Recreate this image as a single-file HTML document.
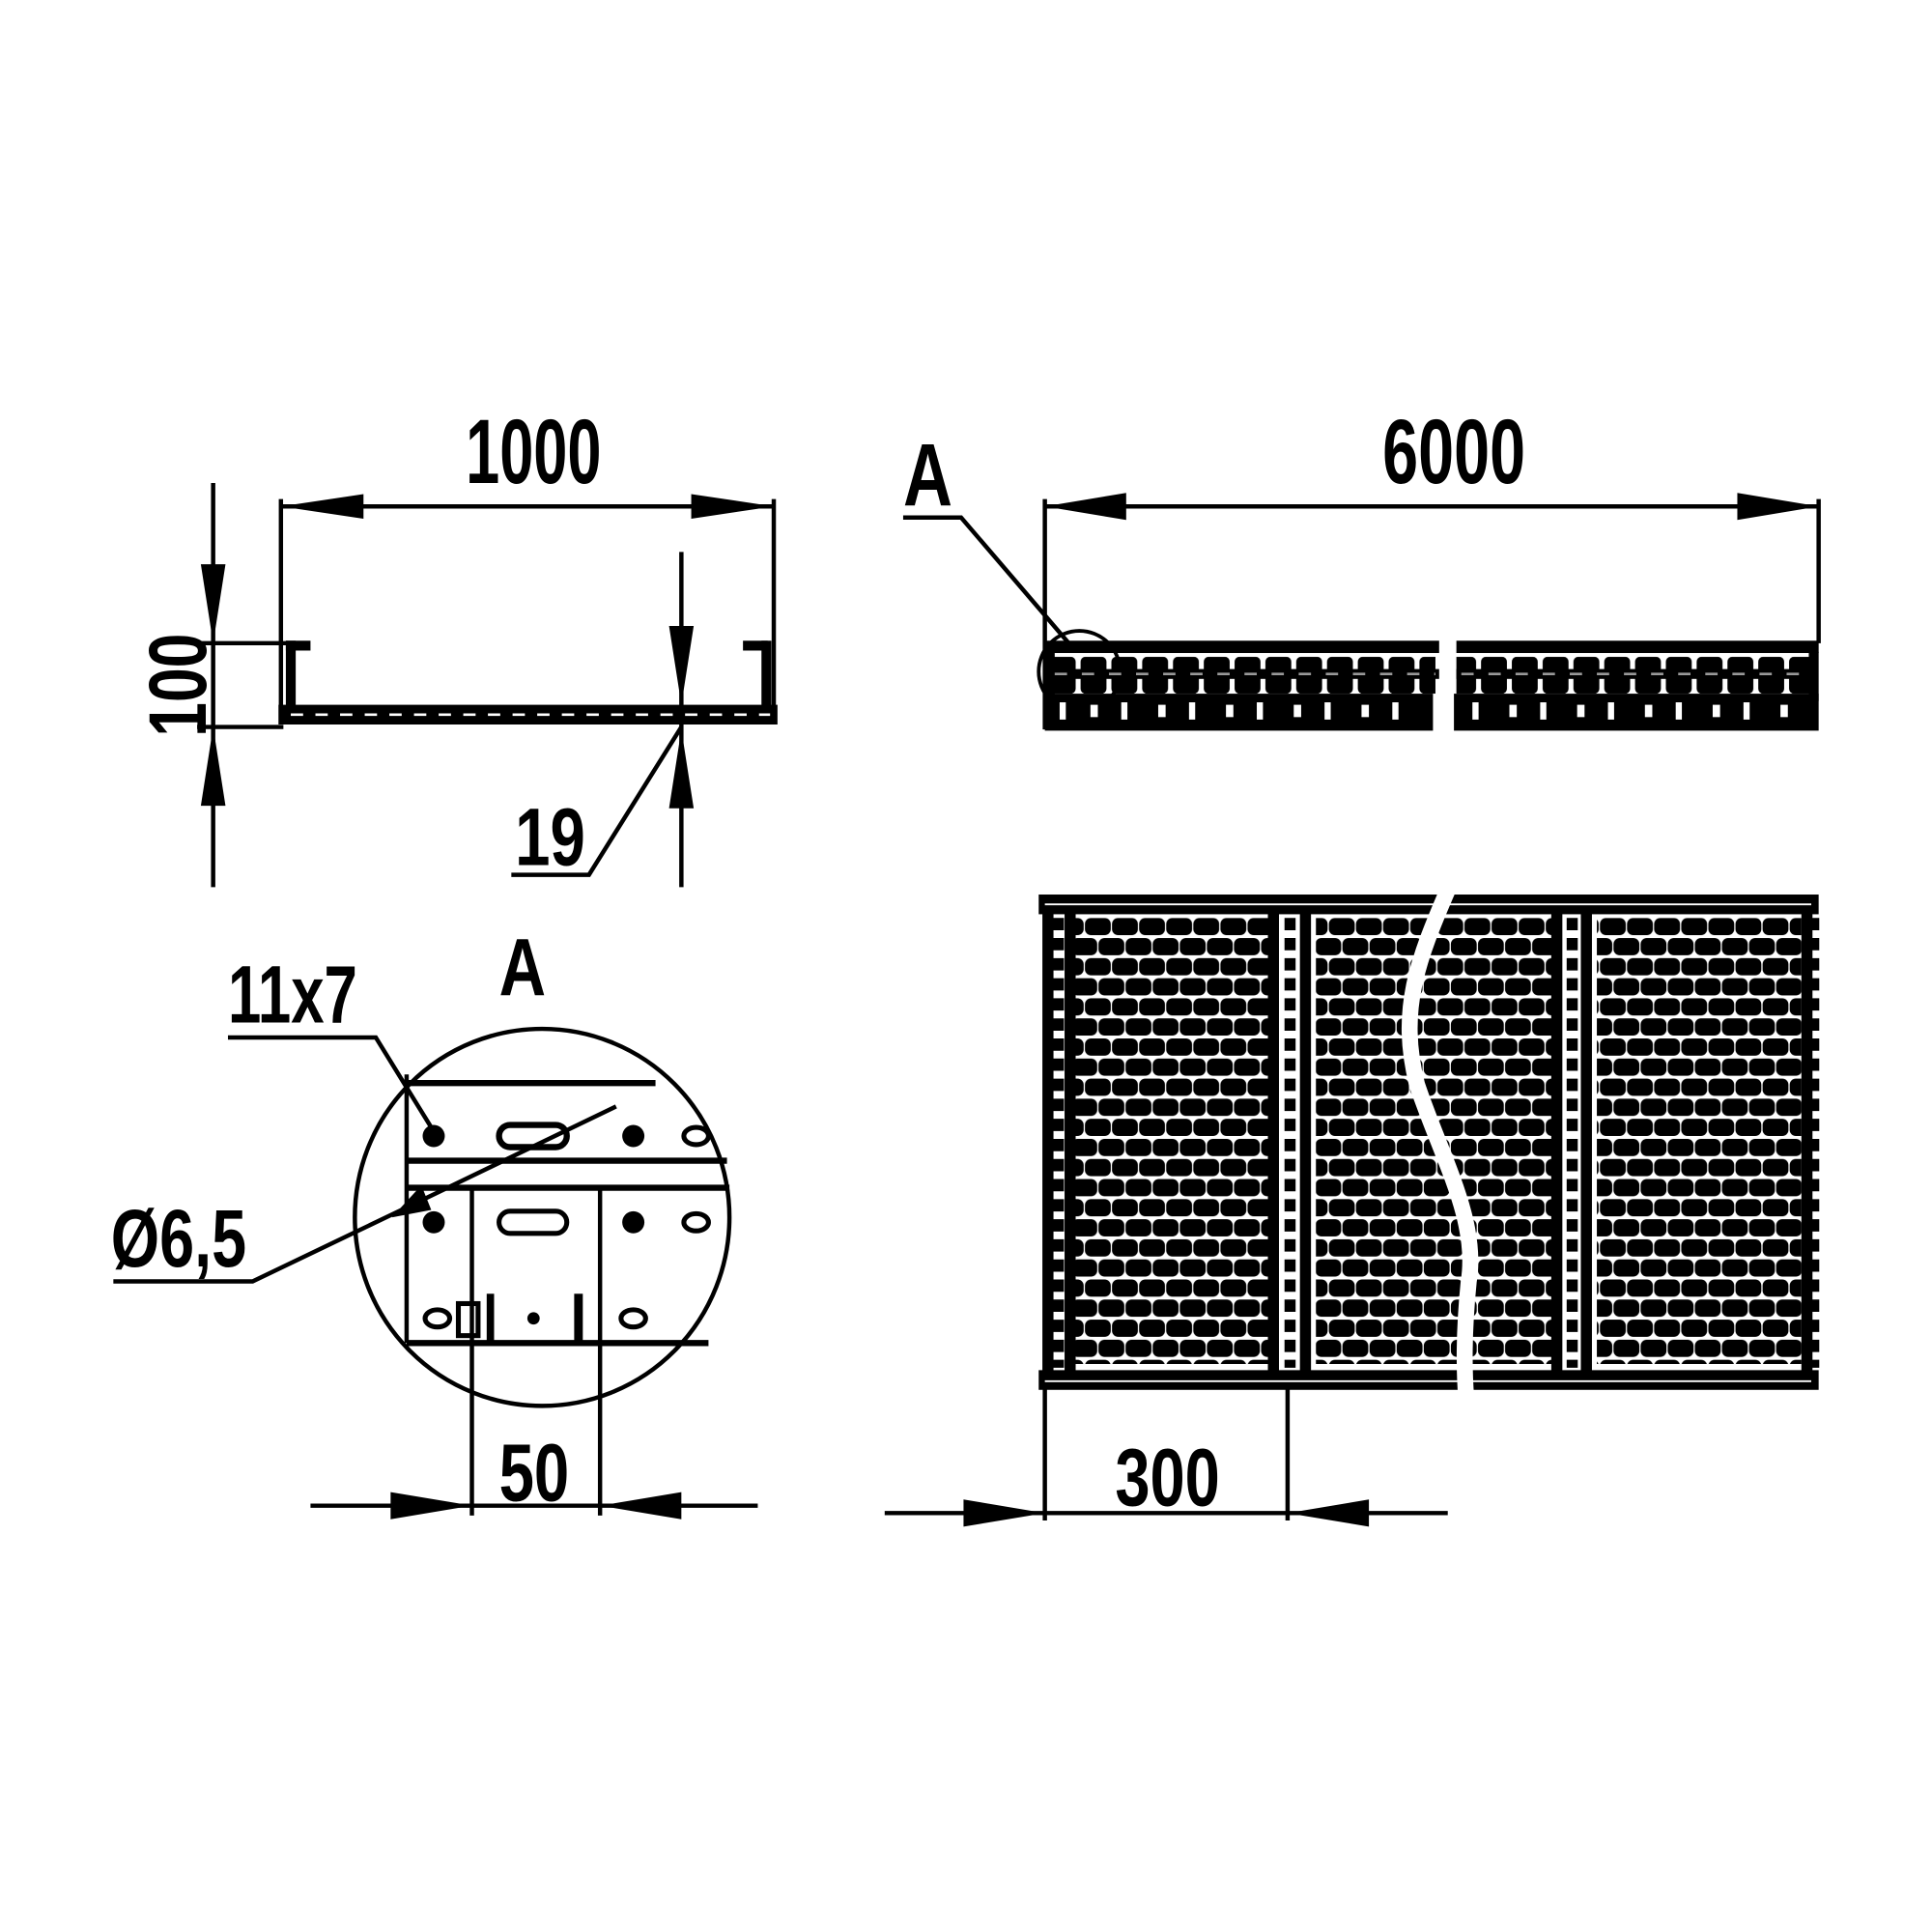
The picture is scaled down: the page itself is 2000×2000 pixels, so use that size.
<!DOCTYPE html>
<html><head><meta charset="utf-8"><style>
html,body{margin:0;padding:0;background:#fff;width:2000px;height:2000px;overflow:hidden}
svg{display:block}
text{font-family:"Liberation Sans",sans-serif;fill:#000;font-weight:bold}
</style></head><body>
<svg width="2000" height="2000" viewBox="0 0 1568 1568" xmlns="http://www.w3.org/2000/svg">
<defs>
<pattern id="holes" x="0" y="745" width="22" height="32.6" patternUnits="userSpaceOnUse">
  <rect x="0.5" y="0" width="21" height="14" rx="5" fill="#000"/>
  <rect x="-10.5" y="16.3" width="21" height="14" rx="5" fill="#000"/>
  <rect x="11.5" y="16.3" width="21" height="14" rx="5" fill="#000"/>
</pattern>
<pattern id="sideholes" x="850" y="0" width="25" height="100" patternUnits="userSpaceOnUse">
  <rect x="2" y="33" width="21" height="30" rx="4" fill="#000"/>
</pattern>
</defs>
<g stroke="#000" fill="none" stroke-width="3.5">
<line x1="228" y1="405" x2="228" y2="580"/>
<line x1="628" y1="405" x2="628" y2="580"/>
<line x1="228" y1="411" x2="628" y2="411"/>
<line x1="173" y1="392" x2="173" y2="720"/>
<line x1="160" y1="522" x2="240" y2="522"/>
<line x1="160" y1="590" x2="230" y2="590"/>
<line x1="553" y1="448" x2="553" y2="720"/>
<polyline points="415,710 478,710 553,590"/>
<line x1="848" y1="405" x2="848" y2="592"/>
<line x1="1476" y1="405" x2="1476" y2="522"/>
<line x1="848" y1="411" x2="1476" y2="411"/>
<polyline points="733,420 780,420 870,525"/>
<circle cx="876" cy="545" r="33" stroke-width="3"/>
<line x1="718" y1="1228" x2="1175" y2="1228"/>
<line x1="848" y1="1120" x2="848" y2="1234"/>
<line x1="1045" y1="1120" x2="1045" y2="1234"/>
<line x1="252" y1="1222" x2="615" y2="1222"/>
<line x1="383" y1="963" x2="383" y2="1230"/>
<line x1="487" y1="963" x2="487" y2="1230"/>
<ellipse cx="440" cy="988" rx="152" ry="153"/>
<line x1="330" y1="879" x2="532" y2="879" stroke-width="5"/>
<line x1="330" y1="872" x2="330" y2="1090"/>
<line x1="330" y1="942" x2="590" y2="942" stroke-width="5"/>
<line x1="330" y1="964" x2="592" y2="964" stroke-width="5"/>
<line x1="330" y1="1090" x2="575" y2="1090" stroke-width="5"/>
<polyline points="185,842 305,842 350,915"/>
<polyline points="92,1040 205,1040 330,980 500,898"/>
<rect x="405" y="983" width="55" height="18" rx="9" stroke-width="4"/>
<rect x="405" y="913" width="55" height="18" rx="9" stroke-width="5"/>
<ellipse cx="565" cy="922" rx="10" ry="7" stroke-width="4"/>
<ellipse cx="565" cy="992" rx="10" ry="7" stroke-width="4"/>
<ellipse cx="514" cy="1070" rx="10" ry="7" stroke-width="4"/>
<ellipse cx="355" cy="1070" rx="10" ry="7" stroke-width="4"/>
<rect x="372" y="1058" width="16" height="26" stroke-width="4"/>
</g>
<g fill="#000">
<polygon points="228,411 295,401 295,421"/>
<polygon points="628,411 561,401 561,421"/>
<polygon points="173,522 163,458 183,458"/>
<polygon points="173,590 163,654 183,654"/>
<polygon points="553,572 543,508 563,508"/>
<polygon points="553,592 543,656 563,656"/>
<polygon points="848,411 914,400 914,422"/>
<polygon points="1476,411 1410,400 1410,422"/>
<polygon points="848,1228 782,1217 782,1239"/>
<polygon points="1045,1228 1111,1217 1111,1239"/>
<polygon points="383,1222 317,1211 317,1233"/>
<polygon points="487,1222 553,1211 553,1233"/>
<polygon points="318,988 342,962 350,982"/>
<rect x="226" y="572" width="405" height="16"/>
<rect x="232" y="520" width="8" height="60"/>
<rect x="232" y="520" width="20" height="8"/>
<rect x="618" y="520" width="8" height="60"/>
<rect x="603" y="520" width="20" height="8"/>
<circle cx="352" cy="922" r="9"/><circle cx="514" cy="922" r="9"/>
<circle cx="352" cy="992" r="9"/><circle cx="514" cy="992" r="9"/>
<circle cx="433" cy="1070" r="5"/>
<rect x="466" y="1050" width="7" height="40"/>
<rect x="395" y="1050" width="6" height="40"/>
</g>
<g stroke="#fff" stroke-width="2" stroke-dasharray="10,10">
<line x1="236" y1="580" x2="625" y2="580"/>
</g>
<g>
<rect x="848" y="520" width="320" height="10" fill="#000"/>
<rect x="1182" y="520" width="294" height="10" fill="#000"/>
<rect x="848" y="563" width="315" height="30" fill="#000"/>
<rect x="1180" y="563" width="296" height="30" fill="#000"/>
<rect x="848" y="529" width="8" height="40" fill="#000"/>
<rect x="1468" y="529" width="8" height="40" fill="#000"/>
<rect x="850" y="533" width="315" height="30" fill="url(#sideholes)"/>
<rect x="1182" y="533" width="290" height="30" fill="url(#sideholes)"/>
<rect x="850" y="543" width="318" height="8" fill="#000"/>
<rect x="1182" y="543" width="292" height="8" fill="#000"/>
<g stroke="#999" stroke-width="2" stroke-dasharray="10,12"><line x1="856" y1="547" x2="1165" y2="547"/><line x1="1186" y1="547" x2="1470" y2="547"/></g>
<g fill="#fff"><rect x="860" y="570" width="5" height="14"/><rect x="885" y="572" width="6" height="10"/><rect x="910" y="570" width="5" height="14"/><rect x="940" y="572" width="6" height="10"/><rect x="965" y="570" width="5" height="14"/><rect x="995" y="572" width="6" height="10"/><rect x="1020" y="570" width="5" height="14"/><rect x="1050" y="572" width="6" height="10"/><rect x="1075" y="570" width="5" height="14"/><rect x="1105" y="572" width="6" height="10"/><rect x="1130" y="570" width="5" height="14"/><rect x="1195" y="570" width="5" height="14"/><rect x="1225" y="572" width="6" height="10"/><rect x="1250" y="570" width="5" height="14"/><rect x="1280" y="572" width="6" height="10"/><rect x="1305" y="570" width="5" height="14"/><rect x="1335" y="572" width="6" height="10"/><rect x="1360" y="570" width="5" height="14"/><rect x="1390" y="572" width="6" height="10"/><rect x="1415" y="570" width="5" height="14"/><rect x="1445" y="572" width="6" height="10"/></g>
</g>
<g>
<rect x="872" y="745" width="160" height="362" fill="url(#holes)"/>
<rect x="1068" y="745" width="194" height="362" fill="url(#holes)"/>
<rect x="1296" y="745" width="166" height="362" fill="url(#holes)"/>
<g fill="#000">
<rect x="843" y="726" width="633" height="16"/>
<rect x="843" y="1112" width="633" height="16"/>
<rect x="846" y="727" width="9" height="400"/>
<rect x="864" y="727" width="9" height="400"/>
<rect x="1029" y="727" width="9" height="400"/>
<rect x="1055" y="727" width="9" height="400"/>
<rect x="1259" y="727" width="9" height="400"/>
<rect x="1283" y="727" width="9" height="400"/>
<rect x="1462" y="727" width="9" height="400"/>
</g>
<g stroke="#000" stroke-width="9" stroke-dasharray="10,6.3">
<line x1="859" y1="745" x2="859" y2="1110"/>
<line x1="1047" y1="745" x2="1047" y2="1110"/>
<line x1="1276" y1="745" x2="1276" y2="1110"/>
<line x1="1472" y1="745" x2="1472" y2="1110"/>
</g>
<line x1="848" y1="734" x2="1470" y2="734" stroke="#fff" stroke-width="1.5"/>
<line x1="848" y1="1121" x2="1470" y2="1121" stroke="#fff" stroke-width="1.5"/>
<path d="M1176,720 C1150,780 1135,820 1150,880 C1170,940 1200,990 1192,1040 C1188,1080 1188,1110 1190,1135" stroke="#fff" stroke-width="13" fill="none"/>
</g>
<text x="378" y="392" font-size="74" textLength="110" lengthAdjust="spacingAndGlyphs">1000</text>
<text x="1122" y="392" font-size="74" textLength="116" lengthAdjust="spacingAndGlyphs">6000</text>
<text x="733" y="410" font-size="72" textLength="40" lengthAdjust="spacingAndGlyphs">A</text>
<text transform="translate(167,598) rotate(-90)" font-size="66" textLength="84" lengthAdjust="spacingAndGlyphs">100</text>
<text x="418" y="702" font-size="66" textLength="57" lengthAdjust="spacingAndGlyphs">19</text>
<text x="185" y="830" font-size="66" textLength="105" lengthAdjust="spacingAndGlyphs">11x7</text>
<text x="405" y="808" font-size="66" textLength="38" lengthAdjust="spacingAndGlyphs">A</text>
<text x="90" y="1028" font-size="66" textLength="110" lengthAdjust="spacingAndGlyphs">Ø6,5</text>
<text x="405" y="1218" font-size="66" textLength="57" lengthAdjust="spacingAndGlyphs">50</text>
<text x="905" y="1222" font-size="66" textLength="85" lengthAdjust="spacingAndGlyphs">300</text>
</svg>
</body></html>
